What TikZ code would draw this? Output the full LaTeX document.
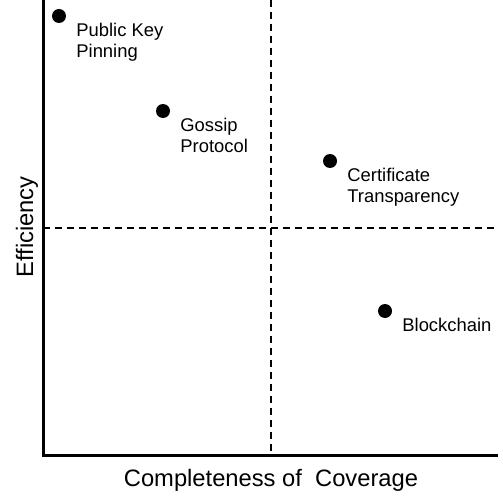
\documentclass[tikz,border=0pt]{standalone}
\usepackage{fontspec}
\setmainfont{Liberation Sans}
\usepackage{xcolor}
\usetikzlibrary{positioning}

\begin{document}
\begin{tikzpicture}[
  x=0.75pt, y=-0.75pt,
  axis/.style={line width=2.25pt, line join=miter},
  divider/.style={line width=1.1pt, dash pattern=on 5pt off 4pt},
  dot/.style={circle, fill=black, inner sep=0pt, minimum size=10.5pt},
  tag/.style={inner sep=0pt, align=left, font=\fontsize{13.8}{15.2}\selectfont},
  axislabel/.style={inner sep=0pt, font=\fontsize{17.8}{20}\selectfont}
]
  \useasboundingbox (0,0) rectangle (503,499);

  \coordinate (top) at (43,0);
  \coordinate (origin) at (43,455);
  \coordinate (right) at (498,455);
  \coordinate (midtop) at (271,0);
  \coordinate (midbottom) at (271,455);
  \coordinate (midleft) at (43,228);
  \coordinate (midright) at (498,228);

  \draw[divider] (midtop) -- (midbottom);
  \draw[divider] (midleft) -- (midright);
  \draw[axis] (top) -- (origin) -- (right);

  \node[dot] (pinning) at (59,16) {};
  \node[dot] (gossip) at (163,111) {};
  \node[dot] (transparency) at (330,161) {};
  \node[dot] (blockchain) at (385,311) {};

  \node[tag, below right=1.5pt and 9pt of pinning] (pinninglabel) {Public Key\\Pinning};
  \node[tag, below right=1.5pt and 9pt of gossip] (gossiplabel) {Gossip\\Protocol};
  \node[tag, below right=1.5pt and 9pt of transparency] (transparencylabel) {Certificate\\Transparency};
  \node[tag, below right=1.5pt and 9pt of blockchain] (blockchainlabel) {Blockchain};

  \node[axislabel, anchor=base] (coverage) at (271,486) {Completeness of~~Coverage};
  \node[axislabel, anchor=base, rotate=90] (efficiency) at (33,227) {Efficiency};
\end{tikzpicture}
\end{document}
